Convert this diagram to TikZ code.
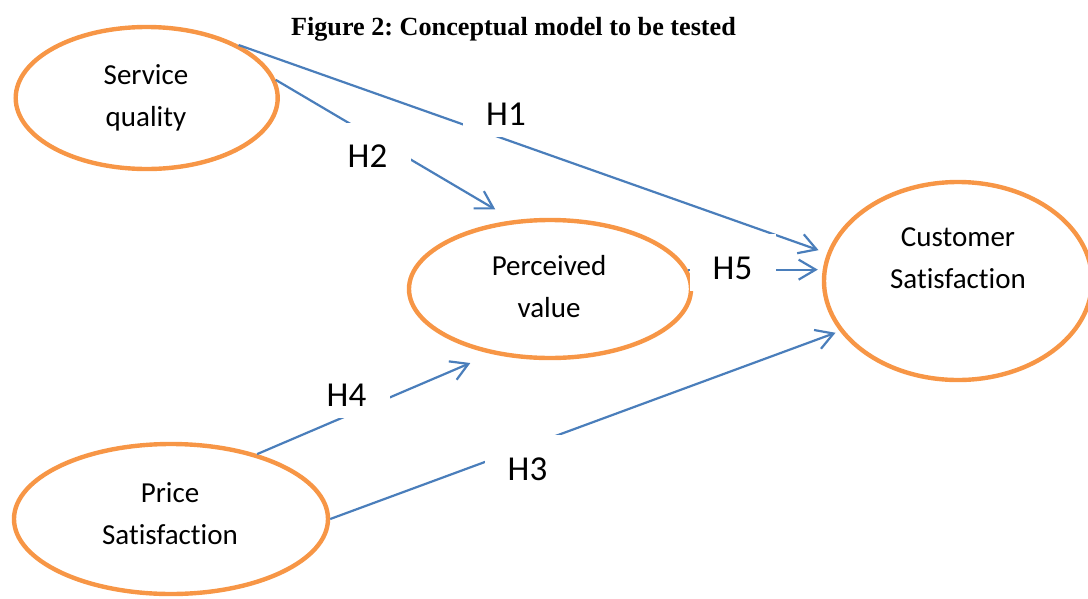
\documentclass[tikz,border=0pt]{standalone}
\usepackage{fontspec}
\setmainfont{Carlito}[Ligatures=NoCommon]
\newfontfamily\captionfont{Liberation Serif}
\usetikzlibrary{arrows.meta,shapes.geometric}
\definecolor{ringorange}{HTML}{F79646}
\definecolor{linkblue}{HTML}{4A7EBB}
\frenchspacing
\begin{document}
\begin{tikzpicture}[x=1pt,y=-1pt,
  construct/.style={ellipse, draw=ringorange, line width=4.4pt, inner sep=0pt},
  caption/.style={font=\fontsize{29}{41.5}\selectfont, align=center, inner sep=0pt, anchor=base},
  hyp/.style={font=\fontsize{35}{42}\selectfont, fill=white, inner sep=0pt,
    text height=45pt, text depth=12pt, minimum width=86pt, anchor=base},
  link/.style={draw=linkblue, line width=2.2pt,
    -{Straight Barb[length=17pt,width=20pt]}}]
\useasboundingbox (0,0) rectangle (1088,598);

% title
\node[font=\captionfont\bfseries\fontsize{26.2}{30}\selectfont, anchor=base, inner sep=0pt]
  (title) at (513.5,35.7) {Figure 2: Conceptual model to be tested};

% constructs
\node[construct, minimum width=262pt, minimum height=142pt] (sq) at (146.7,98) {};
\node[construct, minimum width=282pt, minimum height=138pt] (pv) at (550,289) {};
\node[construct, minimum width=268pt, minimum height=198pt] (cs) at (958,281) {};
\node[construct, minimum width=314pt, minimum height=150pt] (ps) at (171,519) {};

% hypothesised paths
\draw[link, shorten >=9pt]   (sq.30) -- (cs.168.5);
\draw[link, shorten >=21pt]  (sq.8)  -- (pv.118);
\draw[link, shorten >=4pt]   (pv.8)  -- (pv.8 -| cs.west);
\draw[link, shorten >=23pt]  (ps.37) -- (pv.228);
\draw[link, shorten >=4.5pt] (ps.east) -- (cs.203.5);

% path labels
\node[hyp] (h1) at (506,125)   {H1};
\node[hyp] (h2) at (367.5,167.5) {H2};
\node[hyp] (h5) at (732.5,279) {H5};
\node[hyp] (h4) at (346.5,406) {H4};
\node[hyp] (h3) at (527.5,480) {H3};

% construct names (anchored on the baseline of the second line)
\node[caption] (sqt) at (146,126)   {Service\\quality};
\node[caption] (pvt) at (549,317.3) {Perceived\\value};
\node[caption] (cst) at (958,288.3) {Customer\\Satisfaction};
\node[caption] (pst) at (170,544)   {Price\\Satisfaction};
\end{tikzpicture}
\end{document}
